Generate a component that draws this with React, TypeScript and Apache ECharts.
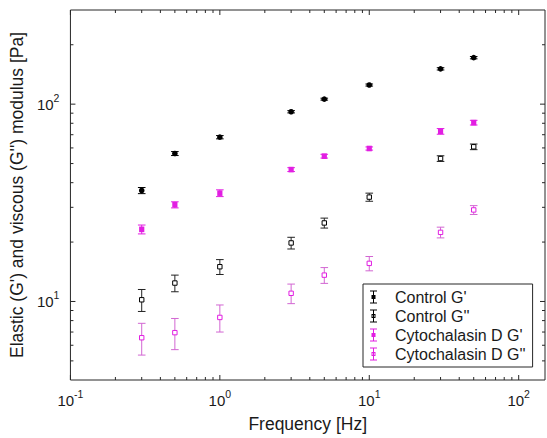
import React, { useEffect, useRef } from "react";
import * as echarts from "echarts";

// ---- data ----
const frequencies = [0.3, 0.5, 1, 3, 5, 10, 30, 50];

const controlG1 = [36.5, 56.2, 68, 91.5, 106, 125, 151, 172];
const controlG1Err = [1.3, 1.3, 1.3, 1.2, 1.2, 1.5, 2.0, 2.3];

const controlG2 = [10.2, 12.4, 15.0, 19.8, 25.0, 33.8, 53.0, 60.8];
const controlG2Err = [1.3, 1.2, 1.3, 1.35, 1.45, 1.6, 1.75, 2.0];

const cytoG1 = [23.2, 30.9, 35.4, 46.6, 54.5, 59.6, 72.8, 80.6];
const cytoG1Err = [1.2, 1.1, 1.4, 1.05, 1.2, 1.1, 2.4, 2.2];

const cytoG2 = [6.55, 6.95, 8.3, 11.0, 13.6, 15.6, 22.4, 29.1];
const cytoG2Err = [1.2, 1.25, 1.3, 1.25, 1.25, 1.3, 1.4, 1.5];

const seriesNames = ["Control G'", "Control G''", "Cytochalasin D G'", "Cytochalasin D G''"];

const xMajorTicks = [0.1, 1, 10, 100];
const xMinorTicks = [
  0.2, 0.3, 0.4, 0.5, 0.6, 0.7, 0.8, 0.9,
  2, 3, 4, 5, 6, 7, 8, 9,
  20, 30, 40, 50, 60, 70, 80, 90,
];
const yMajorTicks = [10, 100];
const yMinorTicks = [5, 6, 7, 8, 9, 20, 30, 40, 50, 60, 70, 80, 90, 200];

const X_MIN = 0.1;
const X_MAX = 150;
const Y_MIN = 4;
const Y_MAX = 300;

// ---- styles ----
const FONT = "'Liberation Sans', Arial, Helvetica, sans-serif";
const AXIS_COLOR = "#262626";
const TEXT_COLOR = "#1a1a1a";
const BLACK = "#000000";
const MAGENTA = "#e21ee2";
const MAGENTA_LIGHT = "#d266d2";

const ICON_FILLED =
  "path://M0 0H7V1H0Z M0 12H7V13H0Z M3 0H4V13H3Z M1.5 4.5H5.5V8.5H1.5Z";
const ICON_OPEN =
  "path://M0 0H7V1H0Z M0 12H7V13H0Z M3 0H4V13H3Z M1.5 4.5H5.5V8.5H1.5Z M2.5 5.5V7.5H4.5V5.5Z";

type MarkerKind = "circle" | "square" | "open";

function errorSeries(
  name: string,
  vals: number[],
  errs: number[],
  color: string,
  barColor: string,
  marker: MarkerKind
) {
  return {
    type: "custom",
    name,
    coordinateSystem: "cartesian2d",
    itemStyle: { color },
    encode: { x: 0, y: 1 },
    data: frequencies.map((f, i) => [f, vals[i], vals[i] - errs[i], vals[i] + errs[i]]),
    renderItem: (_p: any, api: any) => {
      const x = api.value(0);
      const y = api.value(1);
      const lo = api.value(2);
      const hi = api.value(3);
      const c = api.coord([x, y]);
      const pl = api.coord([x, lo]);
      const ph = api.coord([x, hi]);
      const cw = 3.8;
      const bs = { stroke: barColor, lineWidth: 1 };
      const children: any[] = [
        { type: "line", shape: { x1: c[0], y1: pl[1], x2: c[0], y2: ph[1] }, style: bs },
        { type: "line", shape: { x1: c[0] - cw, y1: pl[1], x2: c[0] + cw, y2: pl[1] }, style: bs },
        { type: "line", shape: { x1: c[0] - cw, y1: ph[1], x2: c[0] + cw, y2: ph[1] }, style: bs },
      ];
      if (marker === "circle") {
        children.push({ type: "circle", shape: { cx: c[0], cy: c[1], r: 2.8 }, style: { fill: color } });
      } else if (marker === "square") {
        children.push({
          type: "rect",
          shape: { x: c[0] - 2.6, y: c[1] - 2.8, width: 5.2, height: 5.6 },
          style: { fill: color },
        });
      } else {
        children.push({
          type: "rect",
          shape: { x: c[0] - 2.2, y: c[1] - 2.2, width: 4.4, height: 4.4 },
          style: { fill: "#fff", stroke: color, lineWidth: 1 },
        });
      }
      return { type: "group", children };
    },
  };
}

function tickSeries(kind: "x" | "y") {
  const data =
    kind === "x"
      ? [...xMajorTicks.map((v) => [v, Y_MIN, 5]), ...xMinorTicks.map((v) => [v, Y_MIN, 3])]
      : [...yMajorTicks.map((v) => [X_MIN, v, 5]), ...yMinorTicks.map((v) => [X_MIN, v, 3])];
  return {
    type: "custom",
    name: kind + "ticks",
    silent: true,
    coordinateSystem: "cartesian2d",
    encode: { x: 0, y: 1 },
    data,
    z: 5,
    renderItem: (_p: any, api: any) => {
      const len = api.value(2);
      const st = { stroke: AXIS_COLOR, lineWidth: 1 };
      if (kind === "x") {
        const v = api.value(0);
        const b = api.coord([v, Y_MIN]);
        const t = api.coord([v, Y_MAX]);
        return {
          type: "group",
          children: [
            { type: "line", shape: { x1: b[0], y1: b[1], x2: b[0], y2: b[1] - len }, style: st },
            { type: "line", shape: { x1: t[0], y1: t[1], x2: t[0], y2: t[1] + len }, style: st },
          ],
        };
      }
      const v = api.value(1);
      const l = api.coord([X_MIN, v]);
      const r = api.coord([X_MAX, v]);
      return {
        type: "group",
        children: [
          { type: "line", shape: { x1: l[0], y1: l[1], x2: l[0] + len, y2: l[1] }, style: st },
          { type: "line", shape: { x1: r[0], y1: r[1], x2: r[0] - len, y2: r[1] }, style: st },
        ],
      };
    },
  };
}

function powLabel(v: number) {
  const e = Math.log10(v);
  const r = Math.round(e);
  if (Math.abs(e - r) > 1e-6) return "";
  return `{b|10}{s|${r}}`;
}

const labelRich = {
  b: { fontSize: 15, lineHeight: 24, fontFamily: FONT, color: TEXT_COLOR },
  s: { fontSize: 10.5, lineHeight: 14, verticalAlign: "top", fontFamily: FONT, color: TEXT_COLOR },
};

export default function App() {
  const ref = useRef<HTMLDivElement>(null);
  useEffect(() => {
    if (!ref.current) return;
    const chart = echarts.init(ref.current, undefined, { renderer: "svg" });
    chart.setOption({
      animation: false,
      backgroundColor: "#ffffff",
      grid: {
        left: 70,
        right: 2,
        top: 10,
        bottom: 56,
        show: true,
        borderColor: AXIS_COLOR,
        borderWidth: 1,
        backgroundColor: "transparent",
      },
      xAxis: {
        type: "log",
        logBase: 10,
        min: X_MIN,
        max: X_MAX,
        name: "Frequency [Hz]",
        nameLocation: "middle",
        nameGap: 35,
        nameTextStyle: { fontSize: 17.5, fontFamily: FONT, color: TEXT_COLOR },
        axisLine: { show: false },
        axisTick: { show: false },
        splitLine: { show: false },
        minorTick: { show: false },
        axisLabel: {
          margin: 8,
          formatter: powLabel,
          rich: labelRich,
          showMaxLabel: false,
        },
      },
      yAxis: {
        type: "log",
        logBase: 10,
        min: Y_MIN,
        max: Y_MAX,
        name: "Elastic (G') and viscous (G'') modulus [Pa]",
        nameLocation: "middle",
        nameGap: 37,
        nameTextStyle: { fontSize: 17.5, fontFamily: FONT, color: TEXT_COLOR },
        axisLine: { show: false },
        axisTick: { show: false },
        splitLine: { show: false },
        minorTick: { show: false },
        axisLabel: {
          margin: 11,
          formatter: powLabel,
          rich: labelRich,
          showMinLabel: false,
          showMaxLabel: false,
        },
      },
      legend: {
        orient: "vertical",
        left: 363,
        top: 284,
        data: [
          { name: seriesNames[0], icon: ICON_FILLED },
          { name: seriesNames[1], icon: ICON_OPEN },
          { name: seriesNames[2], icon: ICON_FILLED },
          { name: seriesNames[3], icon: ICON_OPEN },
        ],
        itemWidth: 7,
        itemHeight: 13,
        itemGap: 3,
        padding: [5, 7, 5, 7],
        borderColor: AXIS_COLOR,
        borderWidth: 1,
        borderRadius: 0,
        backgroundColor: "#ffffff",
        selectedMode: false,
        itemStyle: { borderWidth: 0 },
        textStyle: { fontSize: 16, fontFamily: FONT, color: TEXT_COLOR, padding: [0, 0, 0, 13] },
      },
      series: [
        tickSeries("x"),
        tickSeries("y"),
        errorSeries(seriesNames[0], controlG1, controlG1Err, BLACK, BLACK, "circle"),
        errorSeries(seriesNames[1], controlG2, controlG2Err, BLACK, "#222222", "open"),
        errorSeries(seriesNames[2], cytoG1, cytoG1Err, MAGENTA, MAGENTA, "square"),
        errorSeries(seriesNames[3], cytoG2, cytoG2Err, MAGENTA, MAGENTA_LIGHT, "open"),
      ],
    });
    return () => chart.dispose();
  }, []);
  return (
    <div
      ref={ref}
      style={{ position: "fixed", left: 0, top: 0, width: 547, height: 438, background: "#fff" }}
    />
  );
}
